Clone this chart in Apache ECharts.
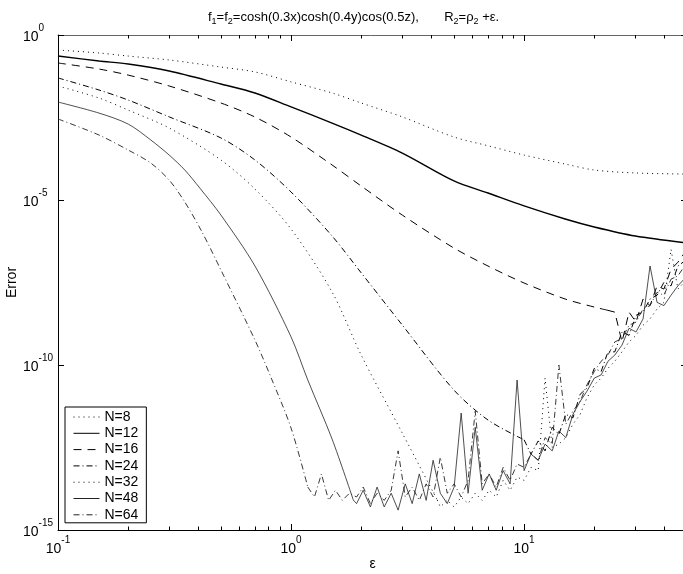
<!DOCTYPE html>
<html><head><meta charset="utf-8">
<script src="https://cdn.jsdelivr.net/npm/echarts@6/dist/echarts.min.js"></script>
<style>html,body{margin:0;padding:0;background:#fff}#c{width:683px;height:574px}</style>
</head><body><div id="c"></div>
<script>
// ---- data (epsilon, error) ----
const seriesNames = ['N=8','N=12','N=16','N=24','N=32','N=48','N=64'];
const epsA = [0.1,0.15,0.2,0.3,0.5,0.7,1,1.5,2,3,5,7,10,15,20,30,50];
const err8 = [0.35,0.285,0.23,0.175,0.107,0.076,0.038,0.0175,0.0087,0.0033,8.1e-4,4.4e-4,2.3e-4,1.23e-4,8.1e-5,6.6e-5,6.1e-5];
const err12 = [0.231,0.163,0.132,0.081,0.0327,0.0175,0.0066,0.00215,9.3e-4,2.65e-4,3.8e-5,1.63e-5,6.6e-6,2.65e-6,1.52e-6,8.1e-7,5e-7];
const eps16 = [0.1,0.15,0.2,0.3,0.5,0.7,1,1.5,2,3,5,7,10,15,20,22.7];
const err16 = [0.142,0.093,0.061,0.0285,0.0087,0.00327,8.1e-4,1.15e-4,2.65e-5,3.5e-6,3.5e-7,1e-7,3.05e-8,1e-8,5.7e-9,4.6e-9];
const eps24 = [0.1,0.15,0.2,0.3,0.5,0.7,1,1.5,2,3,5,7,10];
const err24 = [0.05,0.0215,0.0107,0.0033,7.6e-4,1.63e-4,1.75e-5,8.1e-7,6.2e-8,1.63e-9,1.74e-11,2.15e-12,5.4e-13];
const eps32 = [0.1,0.15,0.2,0.3,0.5,0.7,1,1.5,2,3,4.24];
const err32 = [0.0285,0.0123,0.0053,0.00152,1.63e-4,2.15e-5,1.32e-6,1.63e-8,2e-10,8.7e-13,8.1e-15];
const eps48 = [0.1,0.15,0.2,0.25,0.3,0.35,0.406,0.5,0.7,1,1.18,1.5,1.85];
const err48 = [0.0093,0.0043,0.002,6.6e-4,2.3e-4,8.1e-5,2.3e-5,3.5e-6,1e-7,7.1e-10,3.5e-11,5.7e-13,8.1e-15];
const eps64 = [0.1,0.15,0.2,0.25,0.3,0.35,0.415,0.5,0.7,0.829,1,1.18];
const err64 = [0.00285,9.3e-4,3.27e-4,1.32e-4,4e-5,8.7e-6,1.07e-6,7.6e-8,5.7e-10,3.5e-11,1.23e-12,2e-14];
// round-off noise region, shared epsilon grid (tail of each series)
const epsNoise = [1.26,1.35,1.45,1.55,1.66,1.78,1.91,2.04,2.19,2.34,2.51,2.69,2.88,3.09,3.31,3.55,3.80,4.07,4.37,4.68,5.01,5.37,5.75,6.17,6.61,7.08,7.59,8.13,8.71,9.33,10.0,10.7,11.5,12.3,13.2,14.1,15.1,16.2,17.4,18.6,20.0,21.4,22.9,24.5,26.3,28.2,30.2,32.4,34.7,37.2,39.8,42.7,45.7,50.0];
const noise16 = [4e-9,5e-10,4e-9,2e-9,1e-8,6.3e-9,2.5e-8,2e-8,7.9e-8,1.3e-7,3.2e-7];
const noise24 = [2e-13,5e-13,2.5e-13,1.3e-12,7.9e-13,3.2e-12,2.5e-12,1.3e-11,2e-11,7.9e-11,6.3e-11,2.5e-10,2.5e-10,1e-9,7.9e-10,3.2e-9,4e-9,1e-8,1.3e-8,3.2e-8,2.5e-8,1e-7,1.6e-7];
const noise32 = [5e-15,7.9e-15,5e-15,1e-14,6.3e-15,1.3e-14,7.9e-15,1.6e-14,1e-14,3.2e-14,1.6e-14,4e-14,3.2e-14,7.9e-14,6.3e-14,4e-11,3.2e-13,4e-13,6.3e-13,1.6e-12,3.2e-12,1e-11,2.5e-11,4e-11,7.9e-11,1.3e-10,2.5e-10,5e-10,7.9e-10,1.6e-9,2.5e-9,5e-9,7.9e-9,3.2e-7,2e-8,4e-8];
const noise48 = [6.3e-15,1.6e-14,5e-15,2e-14,5e-15,1.3e-14,4e-15,2.5e-14,6.3e-15,5e-14,7.9e-15,1.3e-13,1.3e-14,6.3e-15,2e-14,3.5e-12,1.3e-14,1.3e-12,1.6e-14,5e-14,1.6e-14,6.3e-14,2.5e-14,3.5e-11,6.3e-14,2e-13,1.3e-13,4e-13,2.5e-13,1e-12,6.3e-13,3.2e-12,7.9e-12,1.6e-11,4e-11,5e-11,1.3e-10,2e-10,4e-10,1.3e-9,1e-9,2.5e-9,1e-7,7.9e-9,6.3e-9,1.3e-8,2.5e-8,5e-8];
const noise64 = [1e-14,5e-14,7.9e-15,1.6e-14,7.9e-15,1.3e-14,1e-14,2e-14,6.3e-15,1.3e-14,7.9e-15,1.6e-14,2.5e-13,1e-14,2e-14,7.9e-15,2.5e-14,1e-14,1.6e-13,1.3e-14,2.5e-14,1e-14,3.2e-14,4e-12,2.5e-14,5e-14,2e-14,7.9e-14,3.2e-14,1e-13,7.9e-14,2e-13,1.3e-13,6.3e-13,4e-13,1e-10,1.6e-12,4e-12,7.9e-12,2.5e-11,6.3e-11,1.3e-10,2e-10,5e-10,6.3e-10,1.6e-9,2e-9,5e-9,6.3e-9,1.6e-8,1.3e-8,4e-8,5e-8,1.3e-7];
// tick positions
const majorXTicks = [0.1,1,10];
const minorXTicks = [0.2,0.3,0.4,0.5,0.6,0.7,0.8,0.9,2,3,4,5,6,7,8,9,20,30,40];
const majorYTicks = [1e-15,1e-10,1e-5,1];

// ---- build ----
function pairs(xs, ys){ return xs.map((x,i)=>[x, ys[i]]); }
function noisePart(xs, ys, noise){
  const start = epsNoise.length - noise.length;
  return [[xs[xs.length-1], ys[ys.length-1]]].concat(pairs(epsNoise.slice(start), noise));
}
const FONT = '"Liberation Sans", Arial, Helvetica, sans-serif';
const rich = {
  b: {fontSize: 14, fontFamily: FONT, color: '#000', padding: [4,0,0,0]},
  e: {fontSize: 10, fontFamily: FONT, color: '#000', padding: [0,0,14,0]}
};
function expLabel(v){ const e = Math.round(Math.log10(v)); return '{b|10}{e|' + e + '}'; }

function mk(name, data, type, width, color, smooth){
  return {
    name, type: 'line', data, showSymbol: false, symbol: 'none',
    smooth: smooth ? 0.3 : false,
    xAxisIndex: 0, yAxisIndex: 0, animation: false, clip: true,
    color: color || '#000',
    itemStyle: {color: color || '#000'},
    lineStyle: {color: color || '#000', width: width, type: type}
  };
}
const dotted = [1,4], dashed = [8,6], dashdot = [6,3,1,3];
const series = [
  mk(seriesNames[0], pairs(epsA, err8), dotted, 1, '#000', true),
  mk(seriesNames[1], pairs(epsA, err12), 'solid', 1.4, '#000', true),
  mk(seriesNames[2], pairs(eps16, err16), dashed, 1, '#000', true),
  mk(seriesNames[3], pairs(eps24, err24), dashdot, 1, '#000', true),
  mk(seriesNames[4], pairs(eps32, err32), dotted, 1, '#000', true),
  mk(seriesNames[5], pairs(eps48, err48), 'solid', 0.8, '#222', true),
  mk(seriesNames[6], pairs(eps64, err64), dashdot, 0.9, '#222', true),
  mk(seriesNames[2], noisePart(eps16, err16, noise16), dashed, 1, '#000', false),
  mk(seriesNames[3], noisePart(eps24, err24, noise24), dashdot, 1, '#000', false),
  mk(seriesNames[4], noisePart(eps32, err32, noise32), dotted, 1, '#000', false),
  mk(seriesNames[5], noisePart(eps48, err48, noise48), 'solid', 0.8, '#222', false),
  mk(seriesNames[6], noisePart(eps64, err64, noise64), dashdot, 0.9, '#222', false)
];

const xBase = {type: 'log', logBase: 10, min: 0.1, max: 50, interval: 1, gridIndex: 0, splitLine: {show: false}};
const yBase = {type: 'log', logBase: 10, min: 1e-15, max: 1, interval: 5, gridIndex: 0, splitLine: {show: false}};

const option = {
  animation: false,
  backgroundColor: '#fff',
  textStyle: {fontFamily: FONT},
  title: {
    text: '{n|f}{s|1}{n|=f}{s|2}{n|=cosh(0.3x)cosh(0.4y)cos(0.5z),       R}{s|2}{n|=ρ}{s|2}{n| +ε.}',
    left: 208, top: 8, padding: 0,
    textStyle: {
      fontWeight: 'normal',
      rich: {
        n: {fontSize: 13, fontFamily: FONT, color: '#000', fontWeight: 'normal'},
        s: {fontSize: 9, fontFamily: FONT, color: '#000', fontWeight: 'normal', padding: [9,0,0,0]}
      }
    }
  },
  legend: {
    orient: 'vertical', left: 65, top: 407,
    data: seriesNames,
    itemWidth: 26, itemHeight: 14, itemGap: 2.3,
    padding: [3, 8, 1, 8],
    backgroundColor: '#fff', borderColor: '#000', borderWidth: 1,
    itemStyle: {opacity: 0, borderWidth: 0},
    lineStyle: {width: 1},
    textStyle: {fontSize: 14, fontFamily: FONT, color: '#000', lineHeight: 14},
    selectedMode: false
  },
  grid: {left: 58, right: -4, top: 35, bottom: 44, containLabel: false, outerBoundsMode: 'none'},
  xAxis: [
    Object.assign({}, xBase, {
      position: 'bottom',
      axisLine: {show: true, lineStyle: {color: '#000', width: 1}},
      axisTick: {show: false},
      axisLabel: {formatter: expLabel, rich: rich, margin: 5, showMaxLabel: false, alignMinLabel: 'center'},
      name: 'ε', nameLocation: 'middle', nameGap: 27, nameMoveOverlap: false,
      nameTextStyle: {fontSize: 14, fontFamily: FONT, color: '#000'}
    }),
    Object.assign({}, xBase, {
      position: 'top',
      axisLine: {show: true, lineStyle: {color: '#666', width: 1}},
      axisTick: {show: false},
      axisLabel: {show: false}
    })
  ],
  yAxis: [
    Object.assign({}, yBase, {
      position: 'left',
      axisLine: {show: true, lineStyle: {color: '#000', width: 1}},
      axisTick: {show: false},
      axisLabel: {formatter: expLabel, rich: rich, align: 'left', margin: 35},
      name: 'Error', nameLocation: 'middle', nameGap: 39, nameRotate: 90, nameMoveOverlap: false,
      nameTextStyle: {fontSize: 14, fontFamily: FONT, color: '#000'}
    }),
    Object.assign({}, yBase, {
      position: 'right',
      axisLine: {show: true, lineStyle: {color: '#000', width: 1}},
      axisTick: {show: false},
      axisLabel: {show: false}
    })
  ],
  series: series
};
const chart = echarts.init(document.getElementById('c'), null, {renderer: 'canvas'});
chart.setOption(option);

// inward tick marks placed through the axes' own scales
(function addTicks(){
  const px = v => chart.convertToPixel({xAxisIndex: 0}, v);
  const py = v => chart.convertToPixel({yAxisIndex: 0}, v);
  const xL = px(0.1), xR = px(50), yT = py(1), yB = py(1e-15);
  const crisp = v => Math.round(v) + 0.5;
  const g = [];
  const seg = (x1, y1, x2, y2) => g.push({type: 'line', silent: true, z: 100,
    shape: {x1, y1, x2, y2}, style: {stroke: '#000', lineWidth: 1}});
  majorXTicks.forEach(v => { const x = crisp(px(v)); seg(x, yB, x, yB - 6); seg(x, yT, x, yT + 6); });
  minorXTicks.forEach(v => { const x = crisp(px(v)); seg(x, yB, x, yB - 3.5); seg(x, yT, x, yT + 3.5); });
  majorYTicks.forEach(v => { const y = crisp(py(v)); seg(xL, y, xL + 6, y); seg(xR, y, xR - 6, y); });
  chart.setOption({graphic: g});
})();
</script>
</body></html>
